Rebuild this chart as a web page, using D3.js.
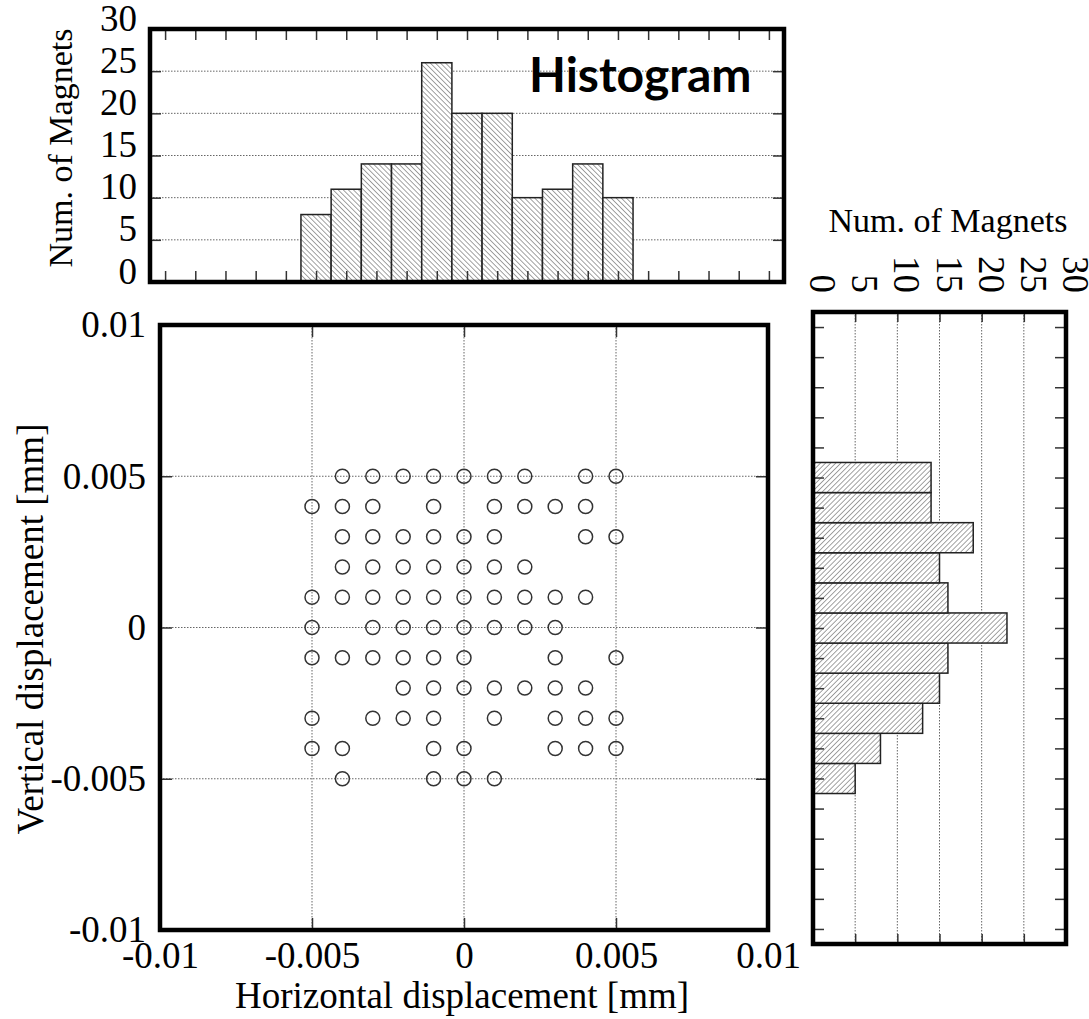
<!DOCTYPE html>
<html>
<head>
<meta charset="utf-8">
<script src="https://cdn.jsdelivr.net/npm/d3@7"></script>
<style>
  body { margin: 0; background: #fff; }
  svg text { font-family: "Liberation Serif", "Times New Roman", serif; fill: #000; }
</style>
</head>
<body>
<svg id="chart" width="1089" height="1019"></svg>
<script>

// ---- data ----
var binCenters = [-0.005, -0.004, -0.003, -0.002, -0.001, 0, 0.001, 0.002, 0.003, 0.004, 0.005];
var horizCounts = [8, 11, 14, 14, 26, 20, 20, 10, 11, 14, 10];
var vertCounts = [5, 8, 13, 15, 16, 23, 16, 15, 19, 14, 14];   // same bins, bottom to top

// magnet positions, x and y in 0.001 mm steps
var points = [
  [-4,5],[-3,5],[-2,5],[-1,5],[0,5],[1,5],[2,5],[4,5],[5,5],
  [-5,4],[-4,4],[-3,4],[-1,4],[1,4],[2,4],[3,4],[4,4],
  [-4,3],[-3,3],[-2,3],[-1,3],[0,3],[1,3],[4,3],[5,3],
  [-4,2],[-3,2],[-2,2],[-1,2],[0,2],[1,2],[2,2],
  [-5,1],[-4,1],[-3,1],[-2,1],[-1,1],[0,1],[1,1],[2,1],[3,1],[4,1],
  [-5,0],[-3,0],[-2,0],[-1,0],[0,0],[1,0],[2,0],[3,0],
  [-5,-1],[-4,-1],[-3,-1],[-2,-1],[-1,-1],[0,-1],[3,-1],[5,-1],
  [-2,-2],[-1,-2],[0,-2],[1,-2],[2,-2],[3,-2],[4,-2],
  [-5,-3],[-3,-3],[-2,-3],[-1,-3],[1,-3],[3,-3],[4,-3],[5,-3],
  [-5,-4],[-4,-4],[-1,-4],[0,-4],[3,-4],[4,-4],[5,-4],
  [-4,-5],[-1,-5],[0,-5],[1,-5]
];

var dispTicks = [-0.01, -0.005, 0, 0.005, 0.01];
var dispTickLabels = ["-0.01", "-0.005", "0", "0.005", "0.01"];
var countTicks = [0, 5, 10, 15, 20, 25, 30];
var countGrid = [5, 10, 15, 20, 25];
var fineTicks = d3.range(-10, 11).map(function(i) { return i / 1000; });

var svg = d3.select("#chart");

// hatch patterns
var defs = svg.append("defs");
function hatch(id, angle) {
  var p = defs.append("pattern")
    .attr("id", id)
    .attr("patternUnits", "userSpaceOnUse")
    .attr("width", 3.6).attr("height", 3.6)
    .attr("patternTransform", "rotate(" + angle + ")");
  p.append("rect").attr("width", 3.6).attr("height", 3.6).attr("fill", "#fff");
  p.append("line").attr("x1", 0).attr("y1", 0).attr("x2", 0).attr("y2", 3.6)
    .attr("stroke", "#444").attr("stroke-width", 1);
}
hatch("hatchBack", -45);
hatch("hatchFwd", 45);

var tickColor = "#333";
var gridColor = "#666";

function styleAxis(g) {
  g.select(".domain").remove();
  g.selectAll("line").attr("stroke", tickColor).attr("stroke-width", 1.5);
  g.selectAll("text").style("font-family", null).attr("font-size", 37).attr("fill", "#000");
}

// ==== main scatter ====
var sc = {x0: 160, x1: 768, y0: 325, y1: 930};
var xS = d3.scaleLinear().domain([-0.01, 0.01]).range([sc.x0, sc.x1]);
var yS = d3.scaleLinear().domain([-0.01, 0.01]).range([sc.y1, sc.y0]);

var gS = svg.append("g");
var inner = [-0.005, 0, 0.005];
gS.selectAll(".vg").data(inner).enter().append("line")
  .attr("x1", function(d) { return xS(d); }).attr("x2", function(d) { return xS(d); })
  .attr("y1", sc.y0).attr("y2", sc.y1)
  .attr("stroke", gridColor).attr("stroke-width", 1).attr("stroke-dasharray", "1.5,1.5");
gS.selectAll(".hg").data(inner).enter().append("line")
  .attr("y1", function(d) { return yS(d); }).attr("y2", function(d) { return yS(d); })
  .attr("x1", sc.x0).attr("x2", sc.x1)
  .attr("stroke", gridColor).attr("stroke-width", 1).attr("stroke-dasharray", "1.5,1.5");

function fmtDisp(d) { return dispTickLabels[dispTicks.indexOf(d)]; }

gS.append("g").attr("transform", "translate(0," + sc.y1 + ")")
  .call(d3.axisBottom(xS).tickValues(dispTicks).tickFormat(fmtDisp)
    .tickSizeInner(-12).tickSizeOuter(0).tickPadding(12))
  .call(styleAxis);
gS.append("g").attr("transform", "translate(0," + sc.y0 + ")")
  .call(d3.axisTop(xS).tickValues(inner).tickFormat("").tickSizeInner(-12).tickSizeOuter(0))
  .call(styleAxis);
gS.append("g").attr("transform", "translate(" + sc.x0 + ",0)")
  .call(d3.axisLeft(yS).tickValues(dispTicks).tickFormat(fmtDisp)
    .tickSizeInner(-12).tickSizeOuter(0).tickPadding(14))
  .call(styleAxis);
gS.append("g").attr("transform", "translate(" + sc.x1 + ",0)")
  .call(d3.axisRight(yS).tickValues(inner).tickFormat("").tickSizeInner(-12).tickSizeOuter(0))
  .call(styleAxis);

gS.selectAll("circle").data(points).enter().append("circle")
  .attr("cx", function(d) { return xS(d[0] / 1000); })
  .attr("cy", function(d) { return yS(d[1] / 1000); })
  .attr("r", 7)
  .attr("fill", "none")
  .attr("stroke", "#333")
  .attr("stroke-width", 1.5);

gS.append("rect")
  .attr("x", sc.x0).attr("y", sc.y0)
  .attr("width", sc.x1 - sc.x0).attr("height", sc.y1 - sc.y0)
  .attr("fill", "none").attr("stroke", "#000").attr("stroke-width", 4.5);

svg.append("text")
  .attr("x", 462).attr("y", 1008)
  .attr("text-anchor", "middle").attr("font-size", 37)
  .text("Horizontal displacement [mm]");
svg.append("text")
  .attr("transform", "translate(43,629) rotate(-90)")
  .attr("text-anchor", "middle").attr("font-size", 37)
  .text("Vertical displacement [mm]");

// ==== top histogram ====
var th = {x0: 150, x1: 784, y0: 29, y1: 282};
var xT = d3.scaleLinear().domain([-0.0105, 0.0105]).range([th.x0, th.x1]);
var yT = d3.scaleLinear().domain([0, 30]).range([th.y1, th.y0]);
var gT = svg.append("g");

gT.selectAll(".grid").data(countGrid).enter().append("line")
  .attr("x1", th.x0).attr("x2", th.x1)
  .attr("y1", function(d) { return yT(d); }).attr("y2", function(d) { return yT(d); })
  .attr("stroke", gridColor).attr("stroke-width", 1).attr("stroke-dasharray", "1.5,1.5");

gT.selectAll(".bar").data(binCenters).enter().append("rect")
  .attr("x", function(d) { return xT(d - 0.0005); })
  .attr("width", function(d) { return xT(d + 0.0005) - xT(d - 0.0005); })
  .attr("y", function(d, i) { return yT(horizCounts[i]); })
  .attr("height", function(d, i) { return yT(0) - yT(horizCounts[i]); })
  .attr("fill", "url(#hatchBack)")
  .attr("stroke", "#222").attr("stroke-width", 1.5);

gT.append("g").attr("transform", "translate(0," + th.y1 + ")")
  .call(d3.axisBottom(xT).tickValues(fineTicks).tickFormat("").tickSizeInner(-11).tickSizeOuter(0))
  .call(styleAxis);
gT.append("g").attr("transform", "translate(0," + th.y0 + ")")
  .call(d3.axisTop(xT).tickValues(fineTicks).tickFormat("").tickSizeInner(-11).tickSizeOuter(0))
  .call(styleAxis);
gT.append("g").attr("transform", "translate(" + th.x0 + ",0)")
  .call(d3.axisLeft(yT).tickValues(countTicks).tickSizeInner(-11).tickSizeOuter(0).tickPadding(13))
  .call(styleAxis)
  .selectAll("text").attr("dy", "0.03em");
gT.append("g").attr("transform", "translate(" + th.x1 + ",0)")
  .call(d3.axisRight(yT).tickValues(countGrid).tickFormat("").tickSizeInner(-11).tickSizeOuter(0))
  .call(styleAxis);

gT.append("rect")
  .attr("x", th.x0).attr("y", th.y0)
  .attr("width", th.x1 - th.x0).attr("height", th.y1 - th.y0)
  .attr("fill", "none").attr("stroke", "#000").attr("stroke-width", 4.5);

svg.append("text")
  .attr("transform", "translate(72,148) rotate(-90)")
  .attr("text-anchor", "middle").attr("font-size", 34)
  .text("Num. of Magnets");

svg.append("text")
  .attr("x", 529).attr("y", 92)
  .style("font-family", "Lato, 'Open Sans', sans-serif")
  .attr("font-weight", "bold").attr("font-size", 48)
  .text("Histogram");

// ==== right histogram ====
var rh = {x0: 813, x1: 1066, y0: 312, y1: 944};
var xR = d3.scaleLinear().domain([0, 30]).range([rh.x0, rh.x1]);
var yR = d3.scaleLinear().domain([-0.0105, 0.0105]).range([rh.y1, rh.y0]);
var gR = svg.append("g");

gR.selectAll(".grid").data(countGrid).enter().append("line")
  .attr("y1", rh.y0).attr("y2", rh.y1)
  .attr("x1", function(d) { return xR(d); }).attr("x2", function(d) { return xR(d); })
  .attr("stroke", gridColor).attr("stroke-width", 1).attr("stroke-dasharray", "1.5,1.5");

gR.selectAll(".bar").data(binCenters).enter().append("rect")
  .attr("x", xR(0))
  .attr("width", function(d, i) { return xR(vertCounts[i]) - xR(0); })
  .attr("y", function(d) { return yR(d + 0.0005); })
  .attr("height", function(d) { return yR(d - 0.0005) - yR(d + 0.0005); })
  .attr("fill", "url(#hatchFwd)")
  .attr("stroke", "#222").attr("stroke-width", 1.5);

gR.append("g").attr("transform", "translate(" + rh.x0 + ",0)")
  .call(d3.axisLeft(yR).tickValues(fineTicks).tickFormat("").tickSizeInner(-11).tickSizeOuter(0))
  .call(styleAxis);
gR.append("g").attr("transform", "translate(" + rh.x1 + ",0)")
  .call(d3.axisRight(yR).tickValues(fineTicks).tickFormat("").tickSizeInner(-11).tickSizeOuter(0))
  .call(styleAxis);
gR.append("g").attr("transform", "translate(0," + rh.y1 + ")")
  .call(d3.axisBottom(xR).tickValues(countGrid).tickFormat("").tickSizeInner(-10).tickSizeOuter(0))
  .call(styleAxis);
gR.append("g").attr("transform", "translate(0," + rh.y0 + ")")
  .call(d3.axisTop(xR).tickValues(countGrid).tickFormat("").tickSizeInner(-10).tickSizeOuter(0))
  .call(styleAxis);

// rotated count labels above the frame
gR.selectAll(".lbl").data(countTicks).enter().append("text")
  .attr("transform", function(d) { return "translate(" + (xR(d) - 3) + ",293) rotate(90)"; })
  .attr("text-anchor", "end").attr("font-size", 37)
  .text(function(d) { return d; });

gR.append("rect")
  .attr("x", rh.x0).attr("y", rh.y0)
  .attr("width", rh.x1 - rh.x0).attr("height", rh.y1 - rh.y0)
  .attr("fill", "none").attr("stroke", "#000").attr("stroke-width", 4.5);

svg.append("text")
  .attr("x", 948).attr("y", 232)
  .attr("text-anchor", "middle").attr("font-size", 34)
  .text("Num. of Magnets");

</script>
</body>
</html>
